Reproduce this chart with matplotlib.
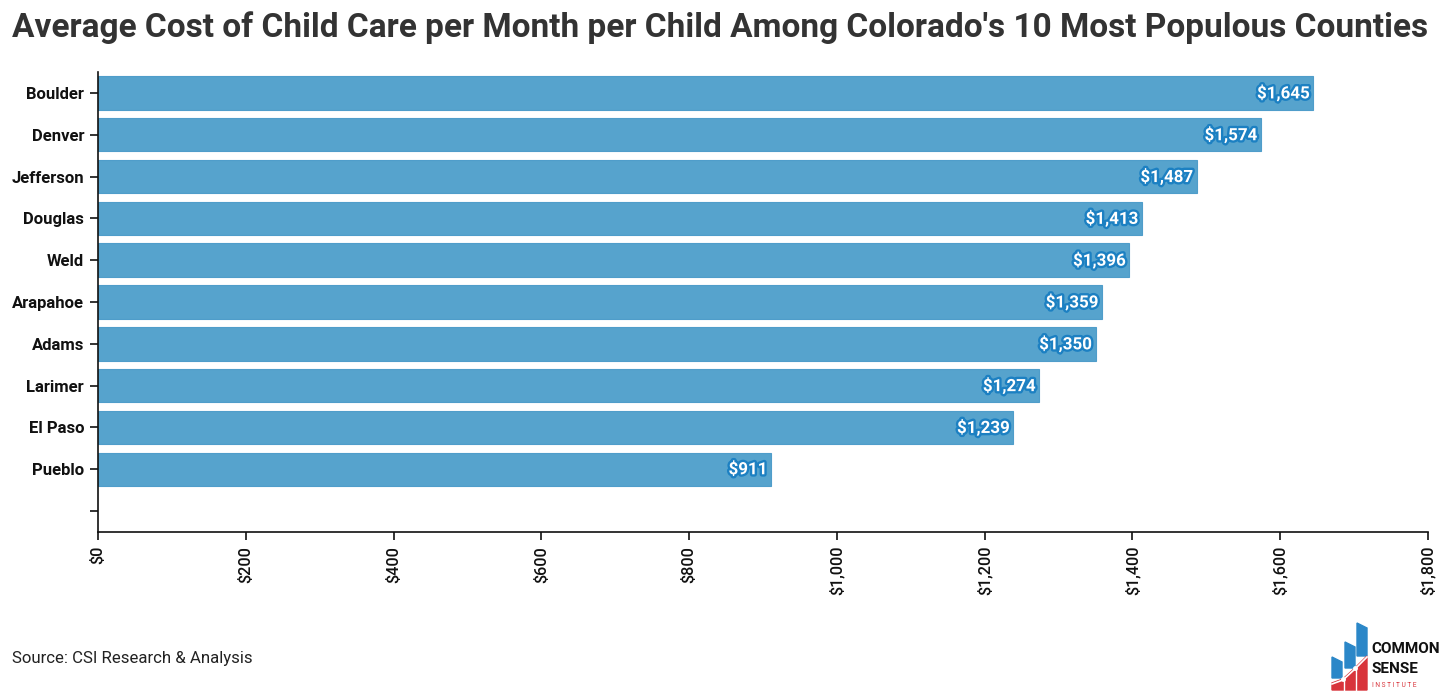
import matplotlib
matplotlib.use("Agg")
import matplotlib.pyplot as plt
import matplotlib.patheffects as pe
from matplotlib.patches import Polygon
from matplotlib.ticker import FuncFormatter, MultipleLocator

counties = ["Boulder", "Denver", "Jefferson", "Douglas", "Weld", "Arapahoe",
            "Adams", "Larimer", "El Paso", "Pueblo"]
costs = [1645, 1574, 1487, 1413, 1396, 1359, 1350, 1274, 1239, 911]
title = "Average Cost of Child Care per Month per Child Among Colorado's 10 Most Populous Counties"
source = "Source: CSI Research & Analysis"

plt.rcParams["font.family"] = ["Roboto", "DejaVu Sans"]

W, H = 1456, 698
fig = plt.figure(figsize=(W / 100, H / 100), dpi=100)
ax = fig.add_axes([98 / W, 1 - 532 / H, (1428 - 98) / W, (532 - 72) / H])

slots = counties + [""]
pos = list(range(len(slots)))
ax.barh(pos[:len(costs)], costs, height=0.8, color="#56a3cd",
        edgecolor="#4f9dca", linewidth=0.8)
for i, v in enumerate(costs):
    ax.text(v - 5, i, f"${v:,}", ha="right", va="center", color="white",
            fontsize=12.2, fontweight="bold",
            path_effects=[pe.withStroke(linewidth=3.4, foreground="#1c80c2")])

ax.set_ylim(len(slots) - 0.5, -0.5)
ax.set_yticks(pos)
ax.set_yticklabels(slots, fontsize=12, fontweight="bold", color="#111111")
ax.set_xlim(0, 1800)
ax.xaxis.set_major_locator(MultipleLocator(200))
ax.xaxis.set_major_formatter(FuncFormatter(lambda x, p: f"${x:,.0f}"))
for lab in ax.get_xticklabels():
    lab.set_rotation(90)
    lab.set_fontsize(11.7)
    lab.set_fontweight("medium")
    lab.set_color("#111111")
ax.tick_params(axis="both", length=6, width=1.2, color="#111111")
ax.tick_params(axis="x", pad=4)
ax.tick_params(axis="y", pad=4)
for s in ["top", "right"]:
    ax.spines[s].set_visible(False)
for s in ["left", "bottom"]:
    ax.spines[s].set_linewidth(1.2)
    ax.spines[s].set_color("#111111")

fig.text(12 / W, 1 - 28 / H, title, ha="left", va="center", fontsize=24.05,
         fontweight="bold", color="#333333")
fig.text(12 / W, 1 - 659 / H, source, ha="left", va="center", fontsize=12.1,
         color="#222222")

# logo
lax = fig.add_axes([1328 / W, 1 - 692 / H, (1446 - 1328) / W, (692 - 618) / H])
lax.set_xlim(1328, 1446)
lax.set_ylim(692, 618)
lax.axis("off")
blue = "#2b87c8"
red = "#d8343b"
lax.add_patch(Polygon([(1332, 657), (1342, 662), (1342, 678), (1332, 678)], color=blue))
lax.add_patch(Polygon([(1345, 642), (1355, 647), (1355, 668), (1345, 668)], color=blue))
lax.add_patch(Polygon([(1357, 623), (1367, 628), (1367, 656), (1357, 656)], color=blue))
lax.add_patch(Polygon([(1332, 683), (1343, 679), (1355, 668), (1367, 656), (1367, 690),
                       (1332, 690)], color=red))
lax.plot([1332, 1343, 1355, 1367], [684, 680, 669, 657], color="white", lw=1.2)
lax.plot([1343, 1355], [679.5, 668.5], "o", color="white", ms=2.5)
lax.plot([1343.5, 1343.5], [679, 690], color="white", lw=1)
lax.plot([1356, 1356], [668, 690], color="white", lw=1)
lax.text(1371, 649, "COMMON", fontsize=11, fontweight="bold", color="#111111",
         va="center", ha="left")
lax.text(1371, 669, "SENSE", fontsize=11, fontweight="bold", color="#111111",
         va="center", ha="left")
lax.text(1372, 686, "I N S T I T U T E", fontsize=4.8, color=red, va="center", ha="left")

fig.savefig("out.png", dpi=100, facecolor="white")
